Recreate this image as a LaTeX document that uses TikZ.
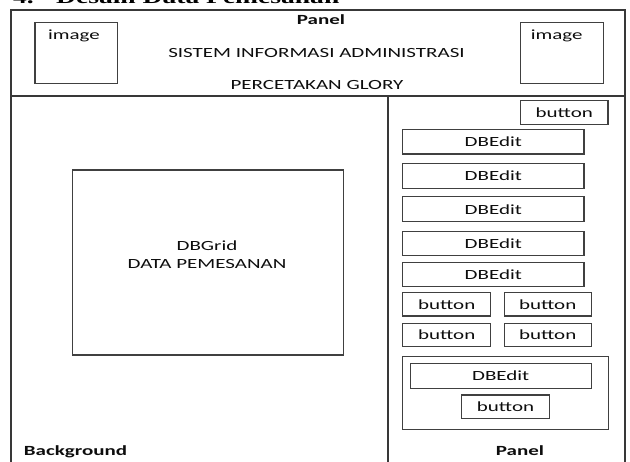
\documentclass[tikz,border=0pt]{standalone}
\usepackage{fontspec}
\setmainfont{Carlito}[FakeStretch=1.5]
\newfontfamily\headfont{Liberation Serif}[FakeStretch=1.45]
\begin{document}
\begin{tikzpicture}[x=1pt,y=-1pt,
  frame/.style={draw=black!78, line width=1.3pt},
  box/.style={draw=black!75, line width=1.1pt, rectangle, inner sep=0pt,
    font=\fontsize{14}{16}\selectfont, text=black!95},
  txt/.style={inner sep=0pt, anchor=base, font=\fontsize{14}{16}\selectfont, text=black!95},
  btxt/.style={txt, font=\fontsize{14}{16}\selectfont\bfseries}]
\useasboundingbox (0,0) rectangle (630,462);
% cut-off heading
\node[inner sep=0pt, anchor=base west, font=\headfont\fontsize{19}{21}\selectfont\bfseries] (hnum) at (13,3.5) {4.};
\node[inner sep=0pt, anchor=base west, font=\headfont\fontsize{19}{21}\selectfont\bfseries] (head) at (56,3.5) {Desain Data Pemesanan};
% frame
\coordinate (tl) at (11,10);
\coordinate (tr) at (625,10);
\coordinate (bl) at (11,470);
\coordinate (br) at (625,470);
\coordinate (ml) at (11,96);
\coordinate (mr) at (625,96);
\coordinate (vt) at (388,96);
\coordinate (vb) at (388,470);
\draw[frame] (bl) -- (tl) -- (tr) -- (br);
\draw[frame] (ml) -- (mr);
\draw[frame] (vt) -- (vb);
% top panel
\node[btxt] (ptop) at (321,25) {Panel};
\node[txt] (sis) at (316.5,57.3) {SISTEM INFORMASI ADMINISTRASI};
\node[txt] (per) at (317,89.5) {PERCETAKAN GLORY};
\node[box, minimum width=82.7pt, minimum height=60.6pt] (imgL) at (76.3,53) {};
\node[txt] (imgLt) at (74,39.5) {image};
\node[box, minimum width=82.6pt, minimum height=60.6pt] (imgR) at (562,53) {};
\node[txt] (imgRt) at (556.7,39.5) {image};
% grid
\node[box, minimum width=270.6pt, minimum height=185pt] (grid) at (208,262.5) {};
\node[txt] (gt1) at (207,250.5) {DBGrid};
\node[txt] (gt2) at (207,268.5) {DATA PEMESANAN};
\node[btxt] (bg) at (75.5,456) {Background};
% right panel
\node[box, minimum width=87.3pt, minimum height=24pt] (b0) at (564.3,112.7) {button};
\node[box, minimum width=181.3pt, minimum height=24.7pt] (e1) at (493.3,141.7) {DBEdit};
\node[box, minimum width=181.3pt, minimum height=25pt] (e2) at (493.3,176) {DBEdit};
\node[box, minimum width=181.3pt, minimum height=25pt] (e3) at (493.3,209.2) {DBEdit};
\node[box, minimum width=181.3pt, minimum height=24.3pt] (e4) at (493.3,243.8) {DBEdit};
\node[box, minimum width=181.3pt, minimum height=24.4pt] (e5) at (493.3,274.5) {DBEdit};
\node[box, minimum width=88pt, minimum height=23.7pt] (b1) at (446.7,304.2) {button};
\node[box, minimum width=87.3pt, minimum height=23.7pt] (b2) at (547.7,304.2) {button};
\node[box, minimum width=88pt, minimum height=23.4pt] (b3) at (446.7,335) {button};
\node[box, minimum width=87.3pt, minimum height=23.4pt] (b4) at (547.7,335) {button};
\node[box, minimum width=205.6pt, minimum height=72.6pt] (grp) at (505.5,393) {};
\node[box, minimum width=181.3pt, minimum height=25.4pt] (e6) at (500.7,376) {DBEdit};
\node[box, minimum width=87.6pt, minimum height=23.7pt] (b5) at (505.5,406.9) {button};
\node[btxt] (pbot) at (520,456) {Panel};
\end{tikzpicture}
\end{document}
